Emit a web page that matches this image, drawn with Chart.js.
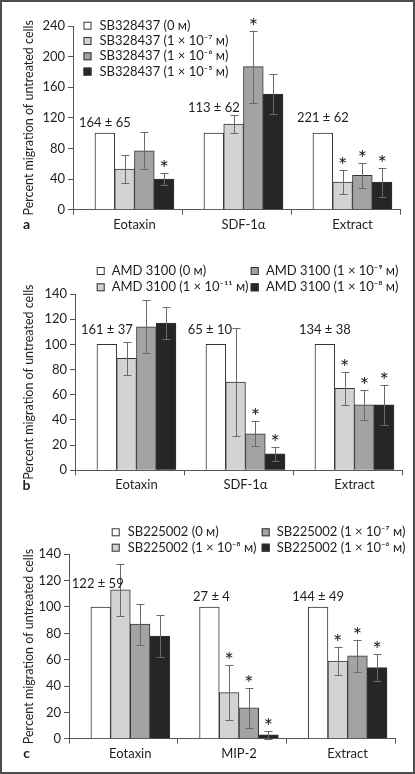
<!DOCTYPE html>
<html>
<head>
<meta charset="utf-8">
<script src="https://cdn.jsdelivr.net/npm/chart.js@4.4.0/dist/chart.umd.min.js"></script>
<style>
  body { margin: 0; background: #fff; }
  #fig { position: relative; width: 415px; height: 774px; }
  #fig canvas { position: absolute; left: 0; }
  #frame { position: absolute; left: 0; top: 0; width: 415px; height: 774px; border: 2px solid #4d4d4d; box-sizing: border-box; pointer-events: none; }
</style>
</head>
<body>
<div id="fig">
  <canvas id="panel-a" width="415" height="255" style="top:0"></canvas>
  <canvas id="panel-b" width="415" height="255" style="top:255px"></canvas>
  <canvas id="panel-c" width="415" height="262" style="top:510px"></canvas>
  <div id="frame"></div>
</div>
<script>
// ---- data ----
const stimuliAB = ['Eotaxin', 'SDF-1α', 'Extract'];
const stimuliC = ['Eotaxin', 'MIP-2', 'Extract'];

// panel a - SB328437
const seriesA = ['SB328437 (0 м)', 'SB328437 (1 × 10⁻⁷ м)', 'SB328437 (1 × 10⁻⁶ м)', 'SB328437 (1 × 10⁻⁵ м)'];
const a0 = [100, 100, 100];
const a1 = [53, 112, 36];
const a2 = [77, 187, 45];
const a3 = [40, 151, 36];
const errA1 = [18, 12, 16];
const errA2 = [24, 47, 16];
const errA3 = [8, 26, 19];
const sigA1 = [0, 0, 1];
const sigA2 = [0, 1, 1];
const sigA3 = [1, 0, 1];
const controlsA = ['164 ± 65', '113 ± 62', '221 ± 62'];
const yTicksA = { max: 240, step: 20 };

// panel b - AMD 3100
const seriesB = ['AMD 3100 (0 м)', 'AMD 3100 (1 × 10⁻¹¹ м)', 'AMD 3100 (1 × 10⁻⁹ м)', 'AMD 3100 (1 × 10⁻⁸ м)'];
const b0 = [100, 100, 100];
const b1 = [89, 70, 65];
const b2 = [114, 29, 52];
const b3 = [117, 13, 52];
const errB1 = [13, 43, 13];
const errB2 = [21, 10, 12];
const errB3 = [13, 5.5, 16];
const sigB1 = [0, 0, 1];
const sigB2 = [0, 1, 1];
const sigB3 = [0, 1, 1];
const controlsB = ['161 ± 37', '65 ± 10', '134 ± 38'];
const yTicksB = { max: 140, step: 20 };

// panel c - SB225002
const seriesC = ['SB225002 (0 м)', 'SB225002 (1 × 10⁻⁸ м)', 'SB225002 (1 × 10⁻⁷ м)', 'SB225002 (1 × 10⁻⁶ м)'];
const c0 = [100, 100, 100];
const c1 = [113, 35, 59];
const c2 = [87, 23.5, 63];
const c3 = [78, 3, 54];
const errC1 = [19.5, 21, 10.5];
const errC2 = [15.5, 15, 12];
const errC3 = [16, 3, 10];
const sigC1 = [0, 1, 1];
const sigC2 = [0, 1, 1];
const sigC3 = [0, 1, 1];
const controlsC = ['122 ± 59', '27 ± 4', '144 ± 49'];
const yTicksC = { max: 140, step: 20 };

// ---- styling ----
const FONT = 'Lato, "Open Sans", sans-serif';
const TEXT = '#1e1e1e';
const AXIS = '#555';
const fills = ['#ffffff', '#d3d3d3', '#a3a3a3', '#262626'];
const SHIFT = 0.064; // bars sit a little right of the axis category slots

// error bars, stars, legend, control counts, panel letter
const extras = {
  id: 'extras',
  afterDatasetsDraw(chart) {
    const ctx = chart.ctx, y = chart.scales.y;
    ctx.save();
    chart.data.datasets.forEach((ds, i) => {
      chart.getDatasetMeta(i).data.forEach((bar, j) => {
        const v = ds.data[j];
        let top = y.getPixelForValue(v);
        const e = ds.errors ? ds.errors[j] : 0;
        if (e) {
          const hi = Math.round(y.getPixelForValue(v + e)) + 0.5;
          const lo = Math.round(y.getPixelForValue(Math.max(v - e, 0))) + 0.5;
          const x = Math.round(bar.x) + 0.5;
          ctx.strokeStyle = '#6a6a6a';
          ctx.lineWidth = 1;
          ctx.beginPath();
          ctx.moveTo(x, hi); ctx.lineTo(x, lo);
          ctx.moveTo(x - 4, hi); ctx.lineTo(x + 4, hi);
          ctx.moveTo(x - 4, lo); ctx.lineTo(x + 4, lo);
          ctx.stroke();
          top = hi;
        }
        if (ds.stars && ds.stars[j]) {
          ctx.font = '22px ' + FONT;
          ctx.fillStyle = TEXT;
          ctx.textAlign = 'center';
          ctx.textBaseline = 'alphabetic';
          const m = ctx.measureText('*');
          const cy = top - 10.5;
          ctx.fillText('*', bar.x, cy + (m.actualBoundingBoxAscent - m.actualBoundingBoxDescent) / 2);
        }
      });
    });
    ctx.restore();
  },
  afterDraw(chart, args, opts) {
    const ctx = chart.ctx, y = chart.scales.y;
    ctx.save();
    ctx.font = '13px ' + FONT;
    ctx.fillStyle = TEXT;
    ctx.textBaseline = 'middle';
    // legend
    const lg = opts.legend;
    lg.cols.forEach(col => {
      col.items.forEach((idx, r) => {
        const ds = chart.data.datasets[idx];
        const cy = lg.y + r * lg.dy;
        ctx.fillStyle = ds.backgroundColor;
        ctx.fillRect(col.x, cy - 4, 8, 8);
        ctx.strokeStyle = '#333';
        ctx.lineWidth = 1;
        ctx.strokeRect(col.x + 0.5, cy - 3.5, 7, 7);
        ctx.fillStyle = TEXT;
        ctx.textAlign = 'left';
        ctx.fillText(ds.label, col.tx, cy);
      });
    });
    // control counts above the untreated bars
    const base = chart.getDatasetMeta(0).data;
    ctx.textAlign = 'center';
    opts.notes.texts.forEach((t, j) => {
      ctx.fillText(t, base[j].x + opts.notes.dx[j], y.getPixelForValue(opts.notes.at[j]));
    });
    // panel letter
    ctx.font = 'bold 14px ' + FONT;
    ctx.fillText(opts.letter.text, opts.letter.x, opts.letter.y);
    ctx.restore();
  }
};

function makePanel(id, cats, names, values, errors, stars, yt, box, extra) {
  const datasets = names.map((n, i) => ({
    label: n,
    data: values[i],
    errors: errors[i],
    stars: stars[i],
    backgroundColor: fills[i],
    borderColor: '#333',
    borderWidth: 1,
    barThickness: 'flex',
    categoryPercentage: 0.725,
    barPercentage: 1
  }));
  const bounds = [0, 1, 2, 3].map(k => k - 0.5 - SHIFT);
  return new Chart(document.getElementById(id), {
    type: 'bar',
    data: { labels: cats.map((_, i) => i), datasets },
    plugins: [extras],
    options: {
      responsive: false,
      animation: false,
      events: [],
      layout: { padding: { left: 0, top: box.top, right: box.right, bottom: 0 } },
      plugins: {
        legend: { display: false },
        tooltip: { enabled: false },
        extras: extra
      },
      scales: {
        x: {
          type: 'linear',
          offset: false,
          min: bounds[0],
          max: bounds[3],
          afterBuildTicks: s => {
            s.ticks = [bounds[0], 0, bounds[1], 1, bounds[2], 2, bounds[3]].map(v => ({ value: v }));
          },
          afterFit: s => { s.height = box.xh; },
          border: { color: AXIS, width: 1 },
          grid: {
            offset: false,
            drawOnChartArea: false,
            tickLength: 5,
            tickColor: c => (c.index % 2 ? 'rgba(0,0,0,0)' : AXIS)
          },
          ticks: {
            autoSkip: false,
            maxRotation: 0,
            padding: 2,
            color: TEXT,
            font: { family: FONT, size: 13 },
            callback: (v, i) => (i % 2 ? cats[(i - 1) / 2] : '')
          }
        },
        y: {
          min: 0,
          max: yt.max,
          afterFit: s => { s.width = box.left; },
          border: { color: AXIS, width: 1 },
          grid: { drawOnChartArea: false, tickLength: 5, tickColor: AXIS },
          title: {
            display: true,
            text: 'Percent migration of untreated cells',
            color: TEXT,
            font: { family: FONT, size: 12.5 },
            padding: { top: 21, bottom: 0 }
          },
          ticks: {
            stepSize: yt.step,
            padding: 3,
            color: TEXT,
            font: { family: FONT, size: 13 }
          }
        }
      }
    }
  });
}

makePanel('panel-a', stimuliAB, seriesA,
  [a0, a1, a2, a3], [null, errA1, errA2, errA3], [null, sigA1, sigA2, sigA3], yTicksA,
  { top: 26, right: 15, left: 73, xh: 45.3 },
  {
    legend: { y: 25.7, dy: 15.3, cols: [{ x: 83.5, tx: 99.5, items: [0, 1, 2, 3] }] },
    notes: { texts: controlsA, at: [114, 132.6, 119.6], dx: [0, 0, 0] },
    letter: { text: 'a', x: 26.5, y: 224 }
  });

makePanel('panel-b', stimuliAB, seriesB,
  [b0, b1, b2, b3], [null, errB1, errB2, errB3], [null, sigB1, sigB2, sigB3], yTicksB,
  { top: 39, right: 13, left: 75, xh: 39.7 },
  {
    legend: { y: 16, dy: 16.3, cols: [{ x: 96.7, tx: 111.7, items: [0, 1] }, { x: 250.7, tx: 266, items: [2, 3] }] },
    notes: { texts: controlsB, at: [111.4, 111.4, 111.4], dx: [0, -6, 0] },
    letter: { text: 'b', x: 26.5, y: 230 }
  });

makePanel('panel-c', stimuliC, seriesC,
  [c0, c1, c2, c3], [null, errC1, errC2, errC3], [null, sigC1, sigC2, sigC3], yTicksC,
  { top: 44.3, right: 20, left: 69, xh: 33.3 },
  {
    legend: { y: 22.3, dy: 15.4, cols: [{ x: 111.7, tx: 127.7, items: [0, 1] }, { x: 261.7, tx: 276.7, items: [2, 3] }] },
    notes: { texts: controlsC, at: [117.5, 107.6, 107.6], dx: [-3, 2, 0] },
    letter: { text: 'c', x: 26.5, y: 243 }
  });
</script>
</body>
</html>
